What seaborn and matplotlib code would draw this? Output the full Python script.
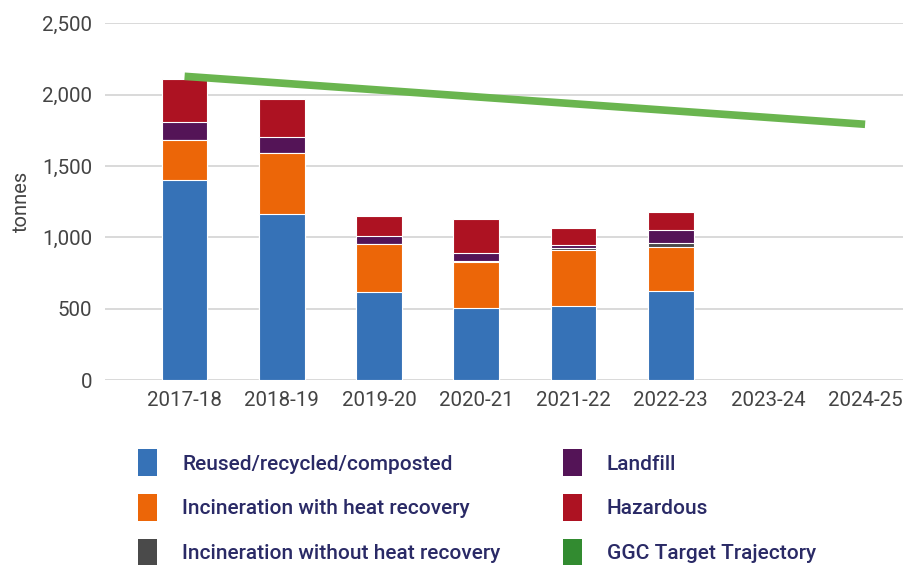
"""Residuos por año fiscal, apilados, con la trayectoria objetivo GGC."""

import matplotlib.pyplot as plt
import matplotlib.ticker as mticker
from matplotlib.patches import Patch
import numpy as np
import pandas as pd
import seaborn as sns

years = ["2017-18", "2018-19", "2019-20", "2020-21", "2021-22", "2022-23", "2023-24", "2024-25"]
reused = [1400, 1165, 615, 505, 520, 625, np.nan, np.nan]
incin_heat = [285, 425, 340, 325, 395, 310, np.nan, np.nan]
incin_no_heat = [0, 0, 0, 5, 8, 25, np.nan, np.nan]
landfill = [125, 110, 57, 55, 25, 90, np.nan, np.nan]
hazardous = [300, 270, 140, 240, 120, 125, np.nan, np.nan]
target = [2128, 2080, 2032, 1984, 1936, 1888, 1840, 1792]

series_names = ["Reused/recycled/composted", "Incineration with heat recovery",
                "Incineration without heat recovery", "Landfill", "Hazardous"]
series_values = [reused, incin_heat, incin_no_heat, landfill, hazardous]
series_colors = ["#3672b7", "#ec6608", "#4a4a4a", "#541457", "#ad1222"]
line_color = "#6ab54f"
legend_line_color = "#328b30"

sns.set_theme(style="white")
plt.rcParams["font.family"] = ["Roboto", "DejaVu Sans"]

df = pd.DataFrame({"year": years})
cum = np.zeros(len(years))
for name, vals in zip(series_names, series_values):
    cum = cum + np.array(vals, dtype=float)
    df[name] = cum

fig = plt.figure(figsize=(9.04, 5.65), dpi=100)
ax = fig.add_axes([0.116, 0.327, 0.884, 0.632])

# Dibujar de la suma mayor a la menor para simular el apilado
for name, color in reversed(list(zip(series_names, series_colors))):
    sns.barplot(data=df, x="year", y=name, order=years, color=color, width=0.47,
                saturation=1, edgecolor="white", linewidth=0.8, ax=ax, zorder=2)

sns.lineplot(x=np.arange(len(years)), y=target, color=line_color, linewidth=5.5,
             ax=ax, zorder=3, solid_capstyle="butt")

ax.set_ylim(0, 2500)
ax.set_xlim(-0.82, 7.4)
ax.yaxis.set_major_locator(mticker.MultipleLocator(500))
ax.yaxis.set_major_formatter(mticker.StrMethodFormatter("{x:,.0f}"))
ax.grid(axis="y", color="#d9d9d9", linewidth=1.4, zorder=0)
ax.set_axisbelow(True)
for spine in ax.spines.values():
    spine.set_visible(False)
ax.tick_params(axis="both", length=0, labelsize=14.8, colors="#444444")
ax.tick_params(axis="y", pad=9)
ax.tick_params(axis="x", pad=8)
ax.set_xlabel("")
ax.set_ylabel("tonnes", fontsize=14.5, color="#444444", labelpad=8)

handles = [Patch(facecolor=c, edgecolor="none") for c in series_colors]
handles.append(Patch(facecolor=legend_line_color, edgecolor="none"))
labels = series_names + ["GGC Target Trajectory"]
leg = fig.legend(handles, labels, loc="upper left", bbox_to_anchor=(0.153, 0.205),
                 ncol=2, frameon=False, fontsize=15, handlelength=0.91,
                 handleheight=1.62, handletextpad=1.2, columnspacing=3.0,
                 labelspacing=0.86, borderaxespad=0, borderpad=0)
for text in leg.get_texts():
    text.set_color("#2a2a66")
    text.set_fontweight("medium")

fig.savefig("out.png", dpi=100)
plt.close(fig)
